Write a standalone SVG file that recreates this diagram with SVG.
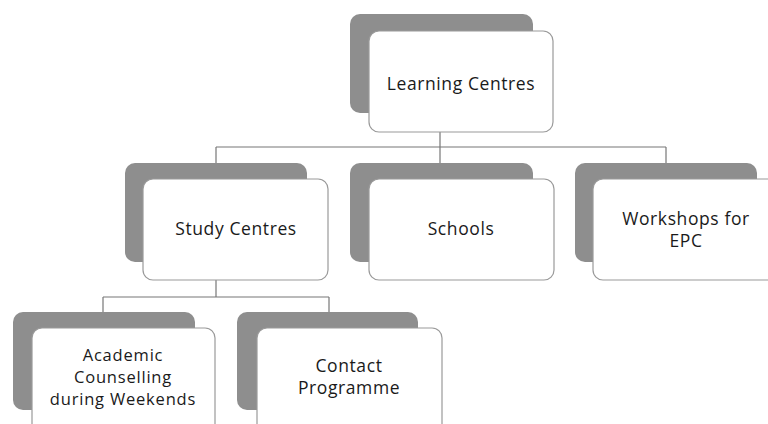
<svg xmlns="http://www.w3.org/2000/svg" width="768" height="424" viewBox="0 0 768 424">
<style>
.sh{fill:#8e8e8e;}
.bx{fill:#fff;stroke:#9a9a9a;stroke-width:1.2;}
.t{font-family:"Open Sans","Liberation Sans",sans-serif;font-size:17.5px;fill:#1a1a1a;text-anchor:middle;letter-spacing:0.6px;}
.s{font-size:16.5px;letter-spacing:0.8px;}
.c{fill:none;stroke:#777;stroke-width:1.2;}
</style>
<rect width="768" height="424" fill="#fff"/>
<g id="connectors">
<path class="c" d="M440,132V147M216,147H666M216,147V163M440,147V163M666,147V163"/>
<path class="c" d="M216,280V297M103,297H329M103,297V312M329,297V312"/>
</g>
<g id="learning-centres">
<rect class="sh" x="350" y="14" width="183" height="99" rx="10"/>
<rect class="bx" x="369" y="31" width="184" height="101" rx="10"/>
<text class="t" x="461" y="90">Learning Centres</text>
</g>
<g id="study-centres">
<rect class="sh" x="125" y="163" width="182" height="99" rx="10"/>
<rect class="bx" x="143" y="179" width="185" height="101" rx="10"/>
<text class="t" x="236" y="235">Study Centres</text>
</g>
<g id="schools">
<rect class="sh" x="350" y="163" width="183" height="99" rx="10"/>
<rect class="bx" x="369" y="179" width="185" height="101" rx="10"/>
<text class="t" x="461" y="235">Schools</text>
</g>
<g id="workshops">
<rect class="sh" x="575" y="163" width="182" height="99" rx="10"/>
<rect class="bx" x="593" y="179" width="185" height="101" rx="10"/>
<text class="t" x="686" y="225">Workshops for</text>
<text class="t" x="686" y="247">EPC</text>
</g>
<g id="academic-counselling">
<rect class="sh" x="13" y="312" width="182" height="98" rx="10"/>
<rect class="bx" x="32" y="328" width="183" height="110" rx="10"/>
<text class="t s" x="123" y="361">Academic</text>
<text class="t s" x="123" y="383">Counselling</text>
<text class="t s" x="123" y="405">during Weekends</text>
</g>
<g id="contact-programme">
<rect class="sh" x="237" y="312" width="181" height="98" rx="10"/>
<rect class="bx" x="257" y="328" width="185" height="110" rx="10"/>
<text class="t" x="349" y="372">Contact</text>
<text class="t" x="349" y="394">Programme</text>
</g>
</svg>
